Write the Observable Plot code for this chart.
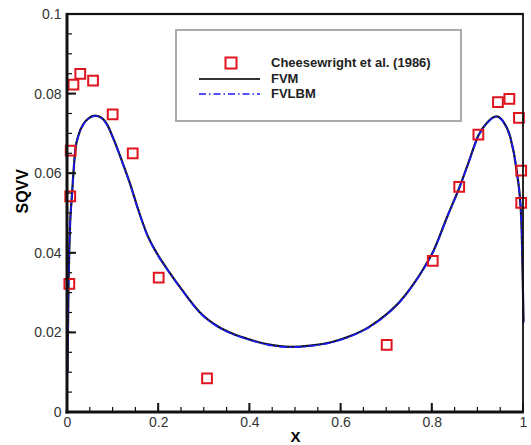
<!DOCTYPE html>
<html><head><meta charset="utf-8">
<script src="https://cdn.jsdelivr.net/npm/d3@7"></script>
<script src="https://cdn.jsdelivr.net/npm/@observablehq/plot@0.6"></script>
<style>
body{margin:0;background:#fff}
</style>
</head><body><div id="chart"></div>
<script>
// Experimental data (Cheesewright et al. 1986)
const expX = [0.004, 0.006, 0.007, 0.013, 0.028, 0.056, 0.099, 0.143, 0.200, 0.306, 0.700, 0.801, 0.859, 0.901, 0.944, 0.969, 0.990, 0.995, 0.995];
const expY = [0.0323, 0.0543, 0.0658, 0.0824, 0.0851, 0.0834, 0.0749, 0.0651, 0.0339, 0.0086, 0.0170, 0.0381, 0.0567, 0.0698, 0.0780, 0.0788, 0.0740, 0.0608, 0.0527];

// FVM curve
const fvmX = [0, 0.002, 0.005, 0.01, 0.017, 0.025, 0.035, 0.045, 0.061, 0.075, 0.086, 0.1, 0.12, 0.1375, 0.155, 0.174, 0.196, 0.22, 0.25, 0.29, 0.33, 0.364, 0.4, 0.44, 0.488, 0.532, 0.58, 0.62, 0.66, 0.70, 0.73, 0.759, 0.78, 0.803, 0.832, 0.861, 0.88, 0.901, 0.92, 0.94, 0.955, 0.971, 0.985, 0.995, 1];
const fvmY = [0.0105, 0.030, 0.045, 0.055, 0.0658, 0.0700, 0.0725, 0.0738, 0.0746, 0.0740, 0.0725, 0.0690, 0.0630, 0.0574, 0.0510, 0.0449, 0.0400, 0.0358, 0.0310, 0.0252, 0.0216, 0.0197, 0.0183, 0.0171, 0.0165, 0.0168, 0.0177, 0.0192, 0.0214, 0.0247, 0.0280, 0.0323, 0.0360, 0.0407, 0.0490, 0.0570, 0.0630, 0.0696, 0.0728, 0.0744, 0.0732, 0.0692, 0.0608, 0.0490, 0.0230];

// FVLBM curve
const lbmX = [0, 0.002, 0.005, 0.01, 0.017, 0.025, 0.035, 0.045, 0.061, 0.075, 0.086, 0.1, 0.12, 0.1375, 0.155, 0.174, 0.196, 0.22, 0.25, 0.29, 0.33, 0.364, 0.4, 0.44, 0.488, 0.532, 0.58, 0.62, 0.66, 0.70, 0.73, 0.759, 0.78, 0.803, 0.832, 0.861, 0.88, 0.901, 0.92, 0.94, 0.955, 0.971, 0.985, 0.995, 1];
const lbmY = [0.0100, 0.030, 0.045, 0.055, 0.0657, 0.0699, 0.0724, 0.0737, 0.0745, 0.0739, 0.0724, 0.0689, 0.0629, 0.0573, 0.0509, 0.0448, 0.0399, 0.0357, 0.0309, 0.0251, 0.0215, 0.0196, 0.0182, 0.0170, 0.0164, 0.0167, 0.0176, 0.0191, 0.0213, 0.0246, 0.0279, 0.0322, 0.0359, 0.0406, 0.0489, 0.0569, 0.0629, 0.0695, 0.0727, 0.0743, 0.0731, 0.0691, 0.0607, 0.0489, 0.0225];

const xTicks = [0, 0.2, 0.4, 0.6, 0.8, 1];
const yTicks = [0, 0.02, 0.04, 0.06, 0.08, 0.1];
const xMinor = d3.range(0, 21).map(i => i / 20);
const yMinor = d3.range(0, 21).map(i => i / 200);

const legendLabels = ["Cheesewright et al. (1986)", "FVM", "FVLBM"];

const exp = expX.map((x, i) => ({x, y: expY[i]}));
const fvm = fvmX.map((x, i) => ({x, y: fvmY[i]}));
const lbm = lbmX.map((x, i) => ({x, y: lbmY[i]}));

const font = "'Liberation Sans', Arial, Helvetica, sans-serif";
const INK = "#111111";
const W = 531, H = 445, ML = 67, MR = 8, MT = 14, MB = 33;

const plot = Plot.plot({
  width: W, height: H,
  marginLeft: ML, marginRight: MR, marginTop: MT, marginBottom: MB,
  style: {fontFamily: font, fontSize: "14px", color: "#111", background: "#fff"},
  x: {domain: [0, 1]},
  y: {domain: [0, 0.1]},
  marks: [
    Plot.line(fvm, {x: "x", y: "y", stroke: "#111", strokeWidth: 2.2, curve: "monotone-x"}),
    Plot.line(lbm, {x: "x", y: "y", stroke: "#1a1aff", strokeWidth: 1.6, strokeDasharray: "7,3,1.5,3", curve: "monotone-x"}),
    Plot.dot(exp, {x: "x", y: "y", symbol: "square", r: 5.5, stroke: "#e0141e", strokeWidth: 2, fill: "none"}),
    Plot.axisX(xTicks, {tickSize: 0, tickPadding: 5, label: null, fill: "#333", fontSize: 14, tickFormat: d => String(d)}),
    Plot.axisY(yTicks, {tickSize: 0, tickPadding: 6, label: null, fill: "#333", fontSize: 14, tickFormat: d => String(d)}),
    Plot.text(["X"], {frameAnchor: "bottom", dy: 25, fontWeight: "bold", fontSize: 15, fill: "#000", lineAnchor: "middle"}),
    Plot.text(["SQVV"], {frameAnchor: "left", dx: -45, rotate: -90, fontWeight: "bold", fontSize: 16, fill: "#000"})
  ]
});

// Scales: same linear mapping as the plot's (domain -> range), with a guard
const dx = d3.scaleLinear().domain([0, 1]).range([ML, W - MR]);
const dy = d3.scaleLinear().domain([0, 0.1]).range([H - MB, MT]);
let X = dx, Y = dy;
try {
  const sx = plot.scale("x"), sy = plot.scale("y");
  if (sx && sy && Array.isArray(sx.range) && Array.isArray(sy.range)) {
    const mx = d3.scaleLinear().domain(sx.domain).range(sx.range);
    const my = d3.scaleLinear().domain(sy.domain).range(sy.range);
    if (isFinite(mx(0.5)) && isFinite(my(0.05))) { X = mx; Y = my; }
  }
} catch (e) {}
const x0 = X(0), x1 = X(1), y0 = Y(0), y1 = Y(0.1);

const svg = d3.select(plot);
const ax = svg.append("g");
function bar(x, y, w, h) {
  ax.append("rect").attr("x", x).attr("y", y).attr("width", w).attr("height", h)
    .attr("fill", INK);
}
xMinor.forEach(v => bar(X(v) - 0.6, y0 - 5, 1.2, 5));
yMinor.forEach(v => bar(x0, Y(v) - 0.6, 5, 1.2));
xTicks.forEach(v => bar(X(v) - 1, y0 - 9, 2, 9));
yTicks.forEach(v => bar(x0, Y(v) - 1, 9, 2));
bar(x0, y1 - 1.1, x1 - x0, 2.2);
bar(x1 - 0.9, y1 - 1.1, 1.8, y0 - y1 + 1.1);
bar(x0 - 1.5, y1 - 1.1, 3, y0 - y1 + 2.6);
bar(x0 - 1.5, y0 - 1.5, x1 - x0 + 2.4, 3);

// Legend box inside the plot
const lg = svg.append("g").attr("font-family", font).attr("font-weight", "bold").attr("font-size", 13).attr("text-anchor", "start");
lg.append("rect").attr("x", 176).attr("y", 30).attr("width", 285).attr("height", 91)
  .attr("fill", "#fff").attr("stroke", "#aaa").attr("stroke-width", 2);
lg.append("rect").attr("x", 225.5).attr("y", 57.5).attr("width", 11).attr("height", 11)
  .attr("fill", "none").attr("stroke", "#e0141e").attr("stroke-width", 2);
lg.append("line").attr("x1", 199).attr("x2", 260).attr("y1", 79).attr("y2", 79)
  .attr("stroke", "#333").attr("stroke-width", 2.2);
lg.append("line").attr("x1", 199).attr("x2", 260).attr("y1", 94).attr("y2", 94)
  .attr("stroke", "#1a1aff").attr("stroke-width", 1.6).attr("stroke-dasharray", "7,3,1.5,3");
legendLabels.forEach((t, i) => {
  lg.append("text").attr("x", 271).attr("y", 67 + i * 15.7).attr("fill", "#222").attr("text-anchor", "start").text(t);
});

document.getElementById("chart").append(plot);
</script>
</body></html>
